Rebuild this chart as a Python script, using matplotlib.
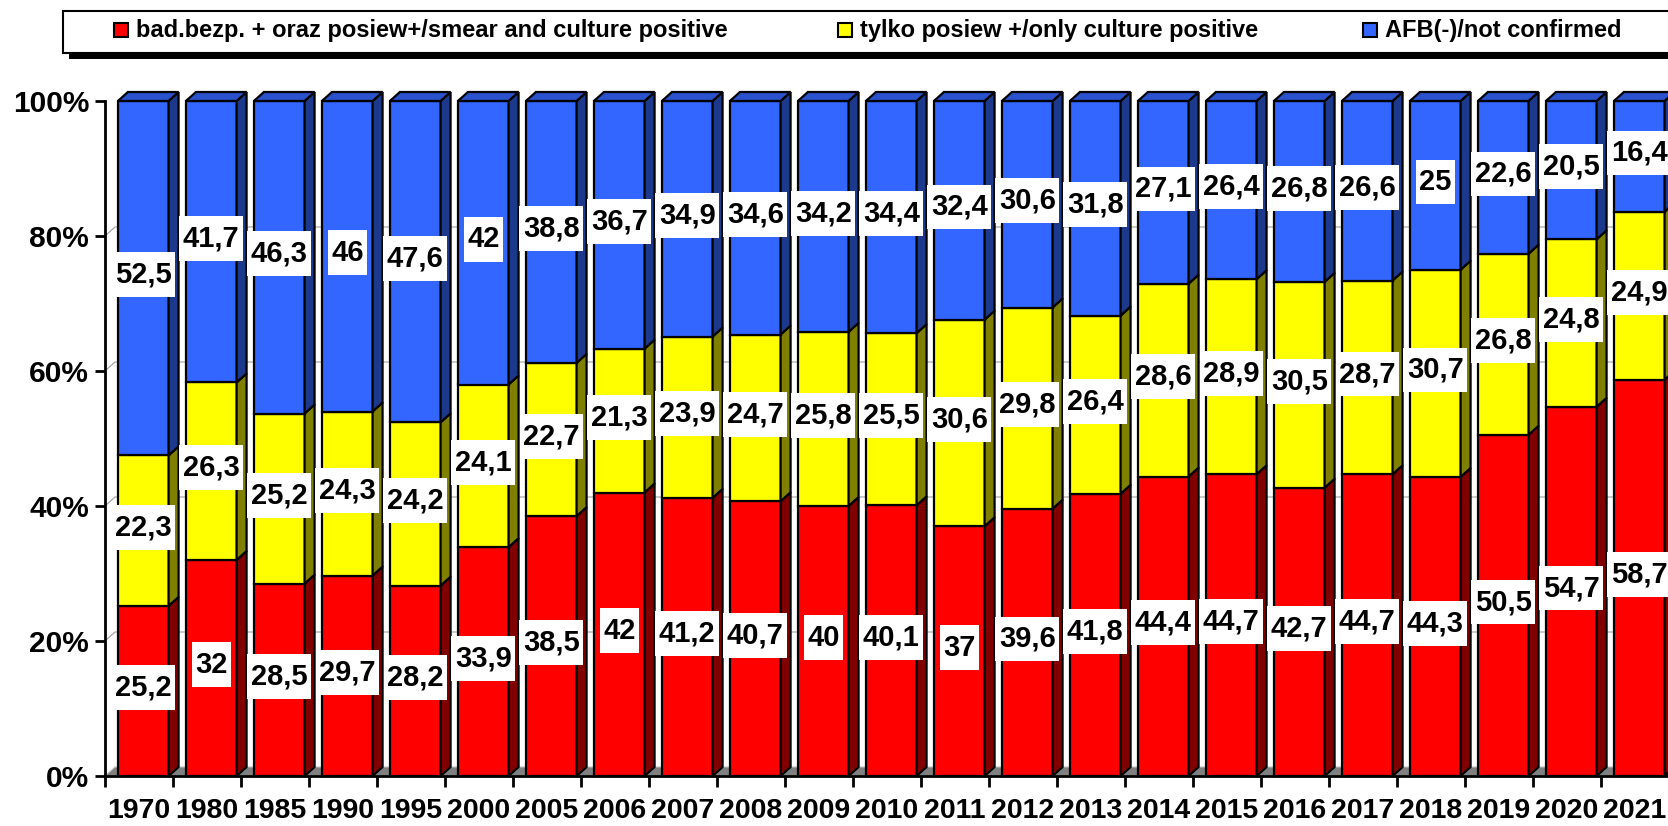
import numpy as np
from matplotlib import pyplot as plt
from matplotlib.patches import Rectangle, Polygon
from matplotlib.path import Path

plt.rcParams['font.family'] = ['Liberation Sans', 'DejaVu Sans']
plt.rcParams['font.weight'] = 'bold'

years = ['1970', '1980', '1985', '1990', '1995', '2000', '2005', '2006', '2007', '2008', '2009',
         '2010', '2011', '2012', '2013', '2014', '2015', '2016', '2017', '2018', '2019', '2020', '2021']
smear_culture = [25.2, 32, 28.5, 29.7, 28.2, 33.9, 38.5, 42, 41.2, 40.7, 40, 40.1, 37, 39.6, 41.8,
                 44.4, 44.7, 42.7, 44.7, 44.3, 50.5, 54.7, 58.7]
culture_only = [22.3, 26.3, 25.2, 24.3, 24.2, 24.1, 22.7, 21.3, 23.9, 24.7, 25.8, 25.5, 30.6, 29.8,
                26.4, 28.6, 28.9, 30.5, 28.7, 30.7, 26.8, 24.8, 24.9]
not_confirmed = [52.5, 41.7, 46.3, 46, 47.6, 42, 38.8, 36.7, 34.9, 34.6, 34.2, 34.4, 32.4, 30.6,
                 31.8, 27.1, 26.4, 26.8, 26.6, 25, 22.6, 20.5, 16.4]
labels = ['bad.bezp. + oraz posiew+/smear and culture positive',
          'tylko posiew +/only culture positive',
          'AFB(-)/not confirmed']

series = [smear_culture, culture_only, not_confirmed]
front = ['#FF0000', '#FFFF00', '#3366FF']
side = ['#800000', '#808000', '#1C398C']
top = ['#B00000', '#B0B000', '#2A52CC']

W, H = 1668, 826
fig = plt.figure(figsize=(W / 100, H / 100), dpi=100)
# axes: x from 105 px, 0% at y=776 px, 100% at y=101 px
ax = fig.add_axes([105 / W, (H - 776) / H, 1564 / W, 675 / H])
n = len(years)
ax.set_xlim(0, n)
ax.set_ylim(0, 100)

dx = 10 / 68.0     # depth in category units
dy = 9 / 6.75      # depth in percent units
x0, bw = 0.19, 0.745


def label_box(x0_, y0_, w_, h_, ms):
    px_, py_ = 0.12 * ms, 0.29 * ms
    a, b = x0_ - px_, y0_ - py_
    c, d = x0_ + w_ + px_, y0_ + h_ + py_
    return Path([(a, b), (c, b), (c, d), (a, d), (a, b)], closed=True)


# floor and back wall grid
ax.add_patch(Polygon([(0, 0), (n + 1, 0), (n + 1 + dx, dy), (dx, dy)], closed=True,
                     fc='#808080', ec='#c0c0c0', lw=0.8, zorder=1, clip_on=False))
for g in [20, 40, 60, 80]:
    ax.plot([0, dx, n + 1], [g, g + dy, g + dy], color='#a0a0a0', lw=0.8, zorder=1, clip_on=False)

for i in range(n):
    total = sum(s[i] for s in series)
    b = 0
    xl = i + x0
    for j, s in enumerate(series):
        h = s[i] / total * 100
        ax.add_patch(Rectangle((xl, b), bw, h, fc=front[j], ec='black', lw=1.6, zorder=3, clip_on=False))
        ax.add_patch(Polygon([(xl + bw, b), (xl + bw + dx, b + dy), (xl + bw + dx, b + h + dy), (xl + bw, b + h)],
                             closed=True, fc=side[j], ec='black', lw=1.6, zorder=3, clip_on=False))
        if j == len(series) - 1:
            ax.add_patch(Polygon([(xl, b + h), (xl + dx, b + h + dy), (xl + bw + dx, b + h + dy), (xl + bw, b + h)],
                                 closed=True, fc=top[j], ec='black', lw=1.6, zorder=3, clip_on=False))
        txt = f'{s[i]:g}'.replace('.', ',')
        ax.text(xl + bw / 2, b + h / 2 + 0.5, txt, ha='center', va='center', fontsize=21,
                fontweight='bold', zorder=5, clip_on=False,
                bbox=dict(boxstyle=label_box, fc='white', ec='none'))
        b += h

for sp in ['top', 'right']:
    ax.spines[sp].set_visible(False)
ax.spines['left'].set_linewidth(2)
ax.spines['bottom'].set_linewidth(2)
ax.spines['left'].set_zorder(6)
ax.spines['bottom'].set_zorder(6)
ax.set_facecolor('none')

ax.set_yticks([0, 20, 40, 60, 80, 100])
ax.set_yticklabels(['0%', '20%', '40%', '60%', '80%', '100%'], fontsize=21.5, fontweight='bold')
ax.tick_params(axis='y', length=7.5, width=2, pad=4)
ax.set_xticks(np.arange(n + 1))
ax.set_xticklabels([])
ax.tick_params(axis='x', which='major', length=8, width=2)
ax.set_xticks(np.arange(n) + 0.5, minor=True)
ax.set_xticklabels(years, minor=True, fontsize=20.5, fontweight='bold')
ax.tick_params(axis='x', which='minor', length=0, pad=16)

# legend box drawn by hand
def fx(x):
    return x / W


def fy(y):
    return 1 - y / H


fig.add_artist(Rectangle((fx(69), fy(59)), fx(1700) - fx(69), fy(17) - fy(59), transform=fig.transFigure,
                         fc='black', ec='none'))
fig.add_artist(Rectangle((fx(63), fy(53)), fx(1700) - fx(63), fy(11) - fy(53), transform=fig.transFigure,
                         fc='white', ec='black', lw=1.5))
leg_x = [114, 838, 1363]
for k in range(3):
    fig.add_artist(Rectangle((fx(leg_x[k]), fy(37)), 14 / W, 14 / H, transform=fig.transFigure,
                             fc=front[k], ec='black', lw=1.5))
    fig.text(fx(leg_x[k] + 22), fy(31), labels[k], ha='left', va='center', fontsize=17, fontweight='bold')

plt.savefig('out.png', dpi=100)
